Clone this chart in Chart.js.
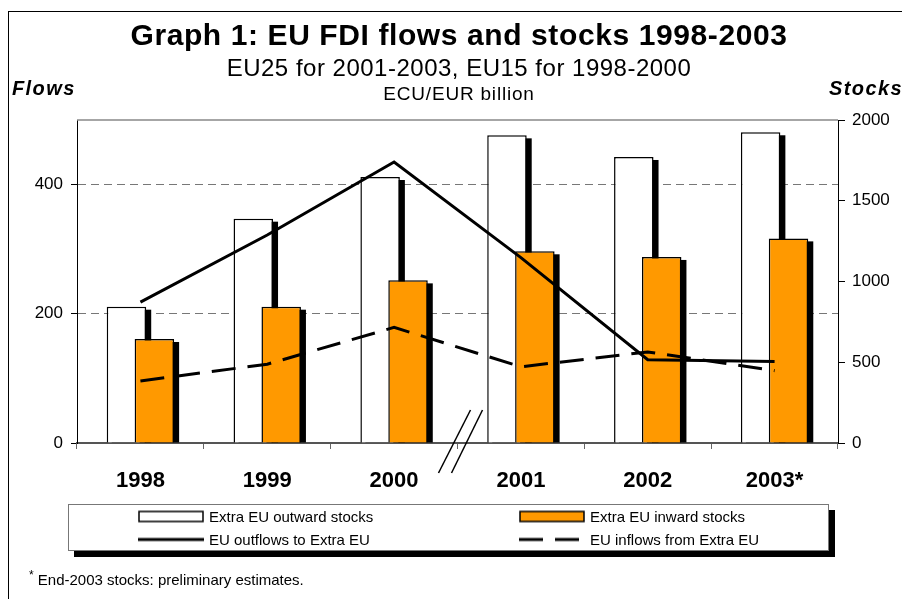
<!DOCTYPE html>
<html>
<head>
<meta charset="utf-8">
<script src="https://cdn.jsdelivr.net/npm/chart.js@4.4.1/dist/chart.umd.min.js"></script>
<style>
  body { margin: 0; background: #fff; font-family: 'Liberation Sans', Arial, sans-serif; color: #000; }
  #wrap { position: relative; width: 902px; height: 599px; overflow: hidden; background: #fff; }
  #frame { position: absolute; left: 8px; top: 11px; width: 1000px; height: 1000px; border-left: 1px solid #000; border-top: 1px solid #000; }
  #chart { position: absolute; left: 0; top: 0; }
  .txt { position: absolute; white-space: nowrap; }
  #title { left: 8px; width: 902px; text-align: center; top: 17px; line-height: 36px; font-size: 30px; font-weight: bold; letter-spacing: .6px; }
  #sub { left: 8px; width: 902px; text-align: center; top: 54px; line-height: 28px; font-size: 24px; letter-spacing: .5px; }
  #unit { left: 8px; width: 902px; text-align: center; top: 83px; line-height: 22px; font-size: 19px; letter-spacing: .8px; }
  #flows, #stocks { top: 76px; line-height: 24px; font-size: 20px; font-weight: bold; font-style: italic; letter-spacing: 1.4px; }
  #flows { left: 12px; }
  #stocks { left: 829px; }
  #legend { position: absolute; left: 68px; top: 504px; width: 761px; height: 47px; box-sizing: border-box;
            border: 1px solid #777; background: #fff; box-shadow: 6px 6px 0 #000; }
  .item { position: absolute; display: flex; align-items: center; transform: translateY(-50%); font-size: 15px; white-space: nowrap; }
  .item canvas { margin-right: 5px; }
  #note { left: 29px; top: 566px; line-height: 18px; font-size: 15px; }
  #note sup { font-size: 12px; }
</style>
</head>
<body>
<div id="wrap">
  <div id="frame"></div>
  <canvas id="chart" width="902" height="599"></canvas>
  <div class="txt" id="title">Graph 1: EU FDI flows and stocks 1998-2003</div>
  <div class="txt" id="sub">EU25 for 2001-2003, EU15 for 1998-2000</div>
  <div class="txt" id="unit">ECU/EUR billion</div>
  <div class="txt" id="flows">Flows</div>
  <div class="txt" id="stocks">Stocks</div>
  <div id="legend"></div>
  <div class="txt" id="note"><sup>*</sup> End-2003 stocks: preliminary estimates.</div>
</div>
<script>
const years = ['1998', '1999', '2000', '2001', '2002', '2003*'];
const outwardStocks = [844, 1389, 1647, 1905, 1771, 1924];
const inwardStocks = [644, 844, 1007, 1187, 1152, 1267];
const outflows = [218, 322, 435, 287, 129, 126];
const inflows = [96, 122, 179, 118, 141, 112];
const flowMax = 500, flowStep = 200;
const stockMax = 2000, stockStep = 500;

const OUT = 0, IN = 1;

Chart.defaults.font.family = "'Liberation Sans', Arial, sans-serif";
Chart.defaults.color = '#000';

function drawShadows(chart, meta) {
  const ctx = chart.ctx;
  ctx.save();
  ctx.fillStyle = '#000';
  meta.data.forEach(bar => {
    const { x, y, base, width } = bar.getProps(['x', 'y', 'base', 'width'], true);
    ctx.fillRect(x - width / 2 + 5, y + 3, width, base - y - 3);
  });
  ctx.restore();
}

// outward bars sit left but must be painted under the inward ones
const barLayers = {
  id: 'barLayers',
  beforeDatasetDraw(chart, args) {
    if (args.index === OUT) return false;
    if (args.index === IN) {
      const out = chart.getDatasetMeta(OUT);
      drawShadows(chart, out);
      out.controller.draw();
      drawShadows(chart, args.meta);
    }
  }
};

const decorations = {
  id: 'decorations',
  beforeDatasetsDraw(chart) {
    const { ctx, chartArea: a } = chart;
    ctx.save();
    ctx.strokeStyle = '#888';
    ctx.lineWidth = 1.5;
    ctx.beginPath();
    ctx.moveTo(a.left, a.top);
    ctx.lineTo(a.right, a.top);
    ctx.stroke();
    ctx.restore();
  },
  afterDraw(chart) {
    // break marks between 2000 and 2001
    const { ctx, chartArea: a, scales: { x } } = chart;
    const xb = (x.getPixelForValue(2) + x.getPixelForValue(3)) / 2;
    ctx.save();
    ctx.strokeStyle = '#000';
    ctx.lineWidth = 1.5;
    [[-19, 13], [-6, 25]].forEach(([x0, x1]) => {
      ctx.beginPath();
      ctx.moveTo(xb + x0, a.bottom + 30);
      ctx.lineTo(xb + x1, a.bottom - 33);
      ctx.stroke();
    });
    ctx.restore();
  }
};

const chart = new Chart(document.getElementById('chart'), {
  type: 'bar',
  data: {
    labels: years,
    datasets: [
      {
        label: 'Extra EU outward stocks',
        data: outwardStocks,
        yAxisID: 'yR',
        backgroundColor: '#fff',
        borderColor: '#000',
        borderWidth: 1.5,
        order: 1
      },
      {
        label: 'Extra EU inward stocks',
        data: inwardStocks,
        yAxisID: 'yR',
        backgroundColor: '#ff9900',
        borderColor: '#000',
        borderWidth: 1.5,
        order: 1
      },
      {
        type: 'line',
        label: 'EU outflows to Extra EU',
        data: outflows,
        yAxisID: 'yL',
        borderColor: '#000',
        borderWidth: 3,
        pointRadius: 0,
        borderJoinStyle: 'miter',
        order: 0
      },
      {
        type: 'line',
        label: 'EU inflows from Extra EU',
        data: inflows,
        yAxisID: 'yL',
        borderColor: '#000',
        borderWidth: 3,
        borderDash: [24, 12],
        pointRadius: 0,
        borderJoinStyle: 'miter',
        order: 0
      }
    ]
  },
  options: {
    responsive: false,
    devicePixelRatio: 1,
    animation: false,
    layout: { padding: { top: 120, bottom: 106, left: 0, right: 0 } },
    categoryPercentage: 0.44,
    barPercentage: 1.415,
    plugins: { legend: { display: false }, tooltip: { enabled: false } },
    scales: {
      x: {
        offset: true,
        grid: { offset: true, drawOnChartArea: false, tickLength: 6, color: '#666' },
        border: { color: '#555', width: 2 },
        ticks: { font: { size: 22, weight: 'bold' }, padding: 19, maxRotation: 0 },
        afterFit: s => { s.height = 50; }
      },
      yL: {
        position: 'left',
        min: 0,
        max: flowMax,
        bounds: 'data',
        ticks: { stepSize: flowStep, font: { size: 17 }, padding: 8 },
        afterBuildTicks: s => { s.ticks = s.ticks.filter(t => t.value % flowStep === 0); },
        grid: {
          color: c => (c.tick && c.tick.value === 0) ? 'rgba(0,0,0,0)' : '#777',
          tickColor: '#000',
          tickLength: 6,
          tickBorderDash: []
        },
        border: { color: '#000', width: 1, dash: [8, 5] },
        afterFit: s => { s.width = 77; }
      },
      yR: {
        position: 'right',
        min: 0,
        max: stockMax,
        ticks: { stepSize: stockStep, font: { size: 17 }, padding: 7, format: { useGrouping: false } },
        grid: { drawOnChartArea: false, tickColor: '#000', tickLength: 7 },
        border: { color: '#000', width: 1 },
        afterFit: s => { s.width = 64; }
      }
    }
  },
  plugins: [barLayers, decorations]
});

// legend, two columns
const legendEl = document.getElementById('legend');
chart.data.datasets.forEach((ds, i) => {
  const item = document.createElement('div');
  item.className = 'item';
  item.style.left = (i % 2 ? 450 : 69) + 'px';
  item.style.top = (i < 2 ? 11 : 34) + 'px';
  const sw = document.createElement('canvas');
  sw.width = 66;
  sw.height = 12;
  const c = sw.getContext('2d');
  if (ds.type === 'line') {
    c.strokeStyle = ds.borderColor;
    c.lineWidth = ds.borderWidth;
    c.setLineDash(ds.borderDash || []);
    c.beginPath();
    c.moveTo(0, 6);
    c.lineTo(66, 6);
    c.stroke();
  } else {
    c.fillStyle = ds.backgroundColor;
    c.fillRect(1, 1, 64, 10);
    c.strokeStyle = ds.borderColor;
    c.lineWidth = 1.5;
    c.strokeRect(1, 1, 64, 10);
  }
  const label = document.createElement('span');
  label.textContent = ds.label;
  item.appendChild(sw);
  item.appendChild(label);
  legendEl.appendChild(item);
});
</script>
</body>
</html>
